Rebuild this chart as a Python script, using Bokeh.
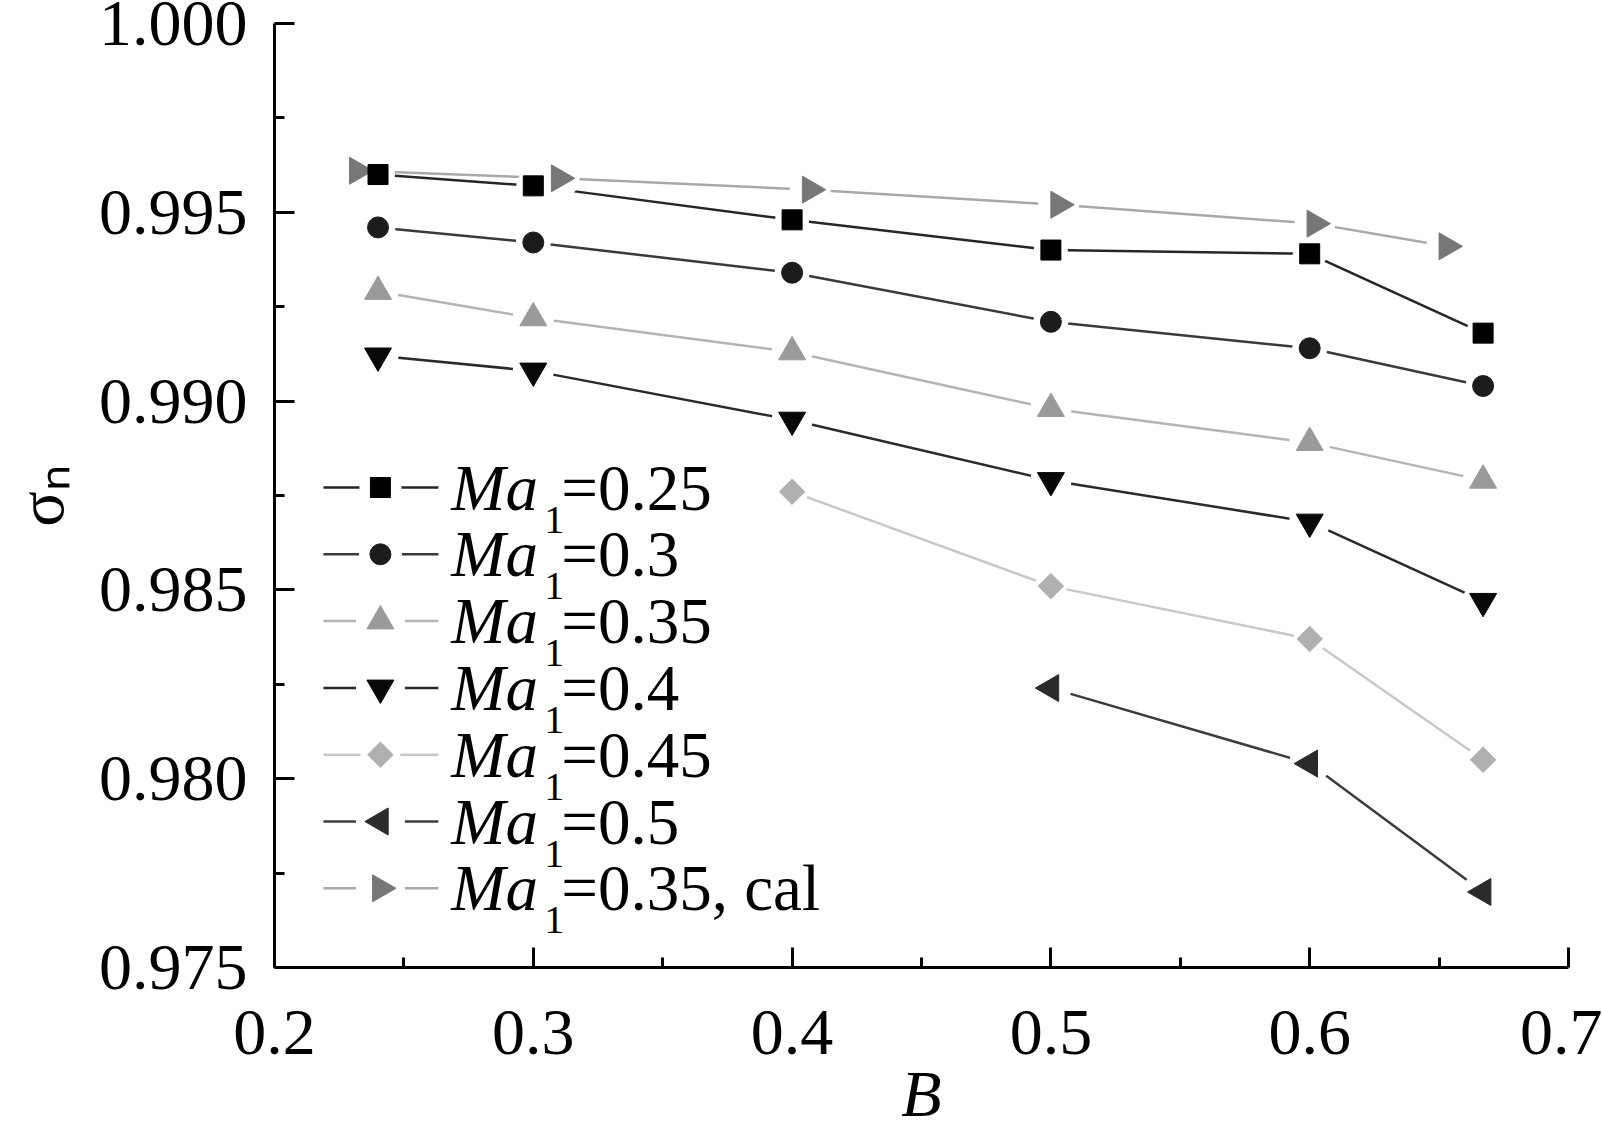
from math import pi

from bokeh.core.properties import value
from bokeh.embed import file_html
from bokeh.models import ColumnDataSource, FixedTicker, PrintfTickFormatter, Range1d
from bokeh.plotting import figure
from bokeh.resources import INLINE

# ---- data ----
B = [0.24, 0.3, 0.4, 0.5, 0.6, 0.667]
sigma_025 = [0.9960, 0.9957, 0.9948, 0.9940, 0.9939, 0.9918]
sigma_030 = [0.9946, 0.9942, 0.9934, 0.9921, 0.9914, 0.9904]
sigma_035 = [0.9929, 0.9922, 0.9913, 0.9898, 0.9889, 0.9879]
sigma_040 = [0.9912, 0.9908, 0.9895, 0.9879, 0.9868, 0.9847]
B_045 = [0.4, 0.5, 0.6, 0.667]
sigma_045 = [0.9876, 0.9851, 0.9837, 0.9805]
B_050 = [0.5, 0.6, 0.667]
sigma_050 = [0.9824, 0.9804, 0.9770]
B_cal = [0.232, 0.31, 0.407, 0.503, 0.602, 0.653]
sigma_cal = [0.9961, 0.9959, 0.9956, 0.9952, 0.9947, 0.9941]

legend_labels = ["=0.25", "=0.3", "=0.35", "=0.4", "=0.45", "=0.5", "=0.35, cal"]

x_ticks = [0.2, 0.3, 0.4, 0.5, 0.6, 0.7]
x_minor = [0.25, 0.35, 0.45, 0.55, 0.65]
y_ticks = [0.975, 0.980, 0.985, 0.990, 0.995, 1.000]
y_minor = [0.9775, 0.9825, 0.9875, 0.9925, 0.9975]

X0, X1 = 0.2, 0.7
Y0, Y1 = 0.975, 1.000

# styles: (x, y, marker, angle, size, fill, line colour)
SERIES = [
    (B, sigma_025, "square", 0, 20, "#000000", "#262626"),
    (B, sigma_030, "circle", 0, 21, "#1c1c1c", "#3a3a3a"),
    (B, sigma_035, "triangle", 0, 27, "#9a9a9a", "#b4b4b4"),
    (B, sigma_040, "inverted_triangle", 0, 27, "#080808", "#2a2a2a"),
    (B_045, sigma_045, "square", pi / 4, 18, "#b0b0b0", "#c8c8c8"),
    (B_050, sigma_050, "triangle", pi / 2, 27, "#2b2b2b", "#3c3c3c"),
    (B_cal, sigma_cal, "triangle", -pi / 2, 27, "#777777", "#a8a8a8"),
]

FONT = "Liberation Serif"
W, H = 1602, 1133
FL, FR, FT, FB = 273, 1568, 23, 967  # frame edges in canvas px


def px_x(px):
    return X0 + (px - FL) / (FR - FL) * (X1 - X0)


def px_y(py):
    return Y1 - (py - FT) / (FB - FT) * (Y1 - Y0)


p = figure(
    width=W, height=H,
    x_range=Range1d(X0, X1), y_range=Range1d(Y0, Y1),
    min_border_left=FL, min_border_right=W - FR,
    min_border_top=FT, min_border_bottom=H - FB,
    output_backend="svg", toolbar_location=None,
    background_fill_color="white", border_fill_color="white",
    outline_line_color=None,
)
p.grid.visible = False

p.xaxis.ticker = FixedTicker(ticks=x_ticks, minor_ticks=x_minor)
p.yaxis.ticker = FixedTicker(ticks=y_ticks, minor_ticks=y_minor)
p.xaxis.formatter = PrintfTickFormatter(format="%.1f")
p.yaxis.formatter = PrintfTickFormatter(format="%.3f")

p.axis.axis_line_width = 3
p.axis.axis_line_color = "black"
p.axis.major_tick_line_width = 3
p.axis.minor_tick_line_width = 3
p.axis.major_tick_line_color = "black"
p.axis.minor_tick_line_color = "black"
p.axis.major_tick_in = 20
p.axis.major_tick_out = 0
p.axis.minor_tick_in = 10
p.axis.minor_tick_out = 0
p.axis.major_label_text_font = FONT
p.axis.major_label_text_font_size = "66px"
p.axis.major_label_text_color = "black"
p.yaxis.major_label_standoff = 27
p.xaxis.major_label_standoff = 43

p.xaxis.axis_label = "B"
p.yaxis.axis_label = "σₙ"
p.axis.axis_label_text_font = FONT
p.axis.axis_label_text_font_size = "66px"
p.axis.axis_label_text_color = "black"
p.xaxis.axis_label_text_font_style = "italic"
p.yaxis.axis_label_text_font_style = "normal"
p.xaxis.axis_label_standoff = 0
p.yaxis.axis_label_standoff = 19

# lines first, then white gaps, then markers
for xs, ys, mk, ang, sz, fill, lc in SERIES:
    p.line(xs, ys, line_color=lc, line_width=2.5)
for xs, ys, mk, ang, sz, fill, lc in SERIES:
    p.scatter(xs, ys, marker="circle", size=sz + 14, fill_color="white", line_color=None)
for xs, ys, mk, ang, sz, fill, lc in reversed(SERIES):
    p.scatter(xs, ys, marker=mk, angle=ang, size=sz, fill_color=fill, line_color=fill)

# legend, drawn by hand for the italic name and subscript
row0, row_step = 487, 66.8
lx0, lx1, lmx = 322, 437, 379
rows = [row0 + i * row_step for i in range(len(legend_labels))]
for cy, (xs, ys, mk, ang, sz, fill, lc) in zip(rows, SERIES):
    p.segment(px_x(lx0), px_y(cy), px_x(lx1), px_y(cy), line_color=lc, line_width=2.5)
    p.scatter([px_x(lmx)], [px_y(cy)], marker="circle", size=sz + 22, fill_color="white", line_color=None)
    p.scatter([px_x(lmx)], [px_y(cy)], marker=mk, angle=ang, size=sz, fill_color=fill, line_color=fill)

n = len(rows)
name_src = ColumnDataSource(dict(x=[px_x(450)] * n, y=[px_y(r) for r in rows], t=["Ma"] * n))
sub_src = ColumnDataSource(dict(x=[px_x(543)] * n, y=[px_y(r + 32) for r in rows], t=["1"] * n))
val_src = ColumnDataSource(dict(x=[px_x(560)] * n, y=[px_y(r) for r in rows], t=legend_labels))
p.text("x", "y", text="t", source=name_src, text_font=value(FONT), text_font_style="italic",
       text_font_size="65px", text_baseline="alphabetic", text_align="left", text_color="black")
p.text("x", "y", text="t", source=sub_src, text_font=value(FONT),
       text_font_size="40px", text_baseline="alphabetic", text_align="left", text_color="black")
p.text("x", "y", text="t", source=val_src, text_font=value(FONT),
       text_font_size="65px", text_baseline="alphabetic", text_align="left", text_color="black")

open("out.html", "w").write(file_html(p, INLINE))
